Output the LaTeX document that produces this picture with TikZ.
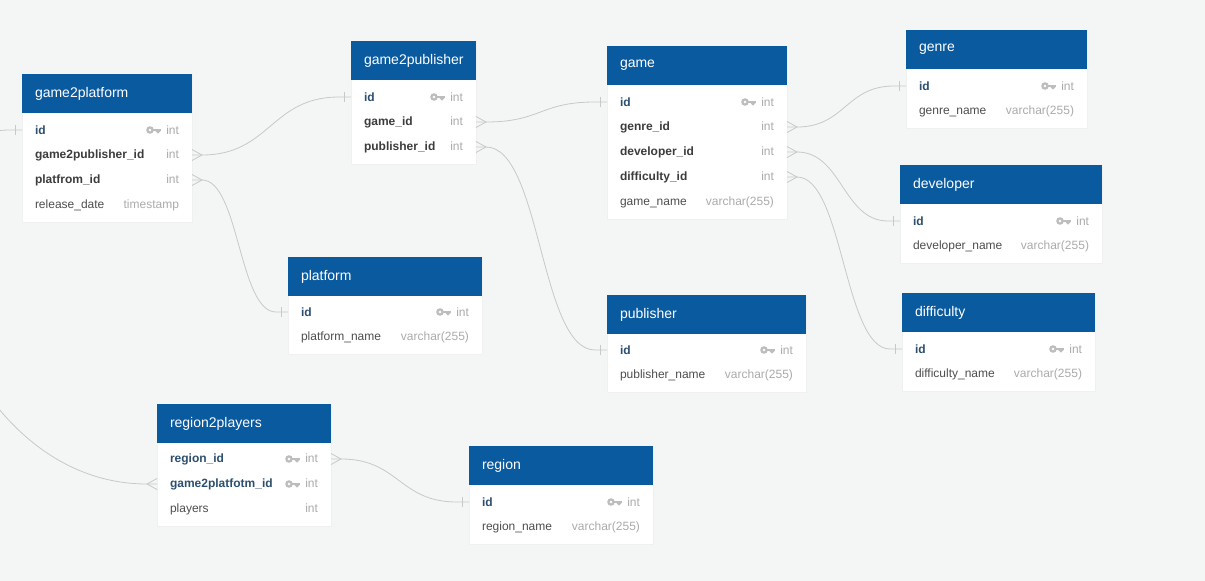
\documentclass[tikz,border=0pt]{standalone}
\usepackage{fontspec}
\setmainfont{Liberation Sans}
\usepackage{tikz}

\definecolor{bggray}{HTML}{F4F5F5}
\definecolor{hdblue}{HTML}{0A5A9F}
\definecolor{pkblue}{HTML}{2C4F6F}
\definecolor{fkgray}{HTML}{3C3C3C}
\definecolor{fdgray}{HTML}{4E4E4E}
\definecolor{tpgray}{HTML}{ABABAB}
\definecolor{relgray}{HTML}{C8C8C8}
\definecolor{keygray}{HTML}{BDBDBD}

\newcommand{\pkf}[1]{\textcolor{pkblue}{\bfseries #1}}
\newcommand{\fkf}[1]{\textcolor{fkgray}{\bfseries #1}}
\newcommand{\nf}[1]{\textcolor{fdgray}{#1}}
\newcommand{\fld}[3]{\hbox to #1pt{#2\hfill\textcolor{tpgray}{#3}}}

% crow's foot and bar ends of the relations
\newcommand{\crowE}[1]{\draw[rel] ([yshift=5.5pt]#1.east) -- ([xshift=10pt]#1.east) -- ([yshift=-5.5pt]#1.east);}
\newcommand{\crowW}[1]{\draw[rel] ([yshift=5.5pt]#1.west) -- ([xshift=-10pt]#1.west) -- ([yshift=-5.5pt]#1.west);}
\newcommand{\barW}[1]{\draw[rel] ([xshift=-7pt,yshift=5pt]#1.west) -- ([xshift=-7pt,yshift=-5pt]#1.west);}

\begin{document}
\begin{tikzpicture}[x=1pt, y=-1pt,
    ebody/.style={fill=white, draw=black!6, line width=0.6pt},
    ehead/.style={anchor=north west, fill=hdblue, text=white, minimum height=39pt,
        inner xsep=13pt, inner ysep=0pt, outer sep=0pt, text width=#1pt, align=left,
        font=\fontsize{14}{16}\selectfont},
    erow/.style={anchor=west, inner xsep=13pt, inner ysep=0pt, outer sep=0pt,
        minimum height=25pt, font=\fontsize{12}{14}\selectfont},
    rel/.style={relgray, line width=0.8pt},
    keyic/.pic={
        \fill[keygray, even odd rule] (0,0) circle (3.8) (0,0) circle (1.6);
        \fill[keygray] (3.2,-1.3) rectangle (10.5,1.3);
        \fill[keygray] (5.5,1) -- (10.5,1) -- (8,3.6) -- cycle;
    }]
    \fill[bggray] (0,0) rectangle (1205,581);
    \useasboundingbox (0,0) rectangle (1205,581);
    \clip (0,0) rectangle (1205,581);

    % game2platform
    \filldraw[ebody] (22,74) rectangle (192,222);
    \node[ehead=144] (g2pf) at (22,74) {game2platform};
    \node[erow] (g2pf-id) at (22,130) {\fld{144}{\pkf{id}}{int}};
    \node[erow] (g2pf-g2pub) at (22,155) {\fld{144}{\fkf{game2publisher\_id}}{int}};
    \node[erow] (g2pf-pf) at (22,180) {\fld{144}{\fkf{platfrom\_id}}{int}};
    \node[erow] (g2pf-date) at (22,205) {\fld{144}{\nf{release\_date}}{timestamp}};

    % game2publisher
    \filldraw[ebody] (351,41) rectangle (476,164);
    \node[ehead=99] (g2pub) at (351,41) {game2publisher};
    \node[erow] (g2pub-id) at (351,97) {\fld{99}{\pkf{id}}{int}};
    \node[erow] (g2pub-game) at (351,122) {\fld{99}{\fkf{game\_id}}{int}};
    \node[erow] (g2pub-pub) at (351,147) {\fld{99}{\fkf{publisher\_id}}{int}};

    % game
    \filldraw[ebody] (607,46) rectangle (787,219);
    \node[ehead=154] (game) at (607,46) {game};
    \node[erow] (game-id) at (607,102) {\fld{154}{\pkf{id}}{int}};
    \node[erow] (game-genre) at (607,127) {\fld{154}{\fkf{genre\_id}}{int}};
    \node[erow] (game-dev) at (607,152) {\fld{154}{\fkf{developer\_id}}{int}};
    \node[erow] (game-diff) at (607,177) {\fld{154}{\fkf{difficulty\_id}}{int}};
    \node[erow] (game-name) at (607,202) {\fld{154}{\nf{game\_name}}{varchar(255)}};

    % genre
    \filldraw[ebody] (906,30) rectangle (1087,128);
    \node[ehead=155] (genre) at (906,30) {genre};
    \node[erow] (genre-id) at (906,86) {\fld{155}{\pkf{id}}{int}};
    \node[erow] (genre-name) at (906,111) {\fld{155}{\nf{genre\_name}}{varchar(255)}};

    % developer
    \filldraw[ebody] (900,165) rectangle (1102,263);
    \node[ehead=176] (dev) at (900,165) {developer};
    \node[erow] (dev-id) at (900,221) {\fld{176}{\pkf{id}}{int}};
    \node[erow] (dev-name) at (900,246) {\fld{176}{\nf{developer\_name}}{varchar(255)}};

    % platform
    \filldraw[ebody] (288,257) rectangle (482,354);
    \node[ehead=168] (pf) at (288,257) {platform};
    \node[erow] (pf-id) at (288,312) {\fld{168}{\pkf{id}}{int}};
    \node[erow] (pf-name) at (288,337) {\fld{168}{\nf{platform\_name}}{varchar(255)}};

    % publisher
    \filldraw[ebody] (607,295) rectangle (806,392);
    \node[ehead=173] (pub) at (607,295) {publisher};
    \node[erow] (pub-id) at (607,350) {\fld{173}{\pkf{id}}{int}};
    \node[erow] (pub-name) at (607,375) {\fld{173}{\nf{publisher\_name}}{varchar(255)}};

    % difficulty
    \filldraw[ebody] (902,293) rectangle (1095,391);
    \node[ehead=167] (diff) at (902,293) {difficulty};
    \node[erow] (diff-id) at (902,349) {\fld{167}{\pkf{id}}{int}};
    \node[erow] (diff-name) at (902,374) {\fld{167}{\nf{difficulty\_name}}{varchar(255)}};

    % region2players
    \filldraw[ebody] (157,404) rectangle (331,526);
    \node[ehead=148] (r2p) at (157,404) {region2players};
    \node[erow] (r2p-region) at (157,459) {\fld{148}{\pkf{region\_id}}{int}};
    \node[erow] (r2p-g2pf) at (157,484) {\fld{148}{\pkf{game2platfotm\_id}}{int}};
    \node[erow] (r2p-players) at (157,509) {\fld{148}{\nf{players}}{int}};

    % region
    \filldraw[ebody] (469,446) rectangle (653,544);
    \node[ehead=158] (region) at (469,446) {region};
    \node[erow] (region-id) at (469,502) {\fld{158}{\pkf{id}}{int}};
    \node[erow] (region-name) at (469,527) {\fld{158}{\nf{region\_name}}{varchar(255)}};

    \foreach \k in {g2pf-id, g2pub-id, game-id, genre-id, dev-id, pf-id, pub-id,
                    diff-id, r2p-region, r2p-g2pf, region-id}
        \pic at ([xshift=-42pt]\k.east) {keyic};

    % relations
    \draw[rel] (g2pf-g2pub.east) -- ++(10,0) .. controls +(68,0) and +(-68,0) .. ([xshift=-12pt]g2pub-id.west) -- (g2pub-id.west);
    \draw[rel] (g2pf-pf.east) -- ++(10,0) .. controls +(37,0) and +(-37,0) .. ([xshift=-12pt]pf-id.west) -- (pf-id.west);
    \draw[rel] (g2pub-game.east) -- ++(10,0) .. controls +(55,0) and +(-55,0) .. ([xshift=-12pt]game-id.west) -- (game-id.west);
    \draw[rel] (g2pub-pub.east) -- ++(10,0) .. controls +(55,0) and +(-55,0) .. ([xshift=-12pt]pub-id.west) -- (pub-id.west);
    \draw[rel] (game-genre.east) -- ++(10,0) .. controls +(48,0) and +(-48,0) .. ([xshift=-12pt]genre-id.west) -- (genre-id.west);
    \draw[rel] (game-dev.east) -- ++(10,0) .. controls +(45,0) and +(-45,0) .. ([xshift=-12pt]dev-id.west) -- (dev-id.west);
    \draw[rel] (game-diff.east) -- ++(10,0) .. controls +(46,0) and +(-46,0) .. ([xshift=-12pt]diff-id.west) -- (diff-id.west);
    \draw[rel] (r2p-region.east) -- ++(10,0) .. controls +(58,0) and +(-58,0) .. ([xshift=-12pt]region-id.west) -- (region-id.west);
    \draw[rel] (r2p-g2pf.west) -- ++(-10,0) .. controls +(-207,0) and +(-150,0) .. ([xshift=-12pt]g2pf-id.west) -- (g2pf-id.west);

    \crowE{g2pf-g2pub} \crowE{g2pf-pf} \crowE{g2pub-game} \crowE{g2pub-pub}
    \crowE{game-genre} \crowE{game-dev} \crowE{game-diff} \crowE{r2p-region}
    \crowW{r2p-g2pf}
    \barW{g2pub-id} \barW{pf-id} \barW{game-id} \barW{pub-id} \barW{genre-id}
    \barW{dev-id} \barW{diff-id} \barW{region-id} \barW{g2pf-id}
\end{tikzpicture}
\end{document}
